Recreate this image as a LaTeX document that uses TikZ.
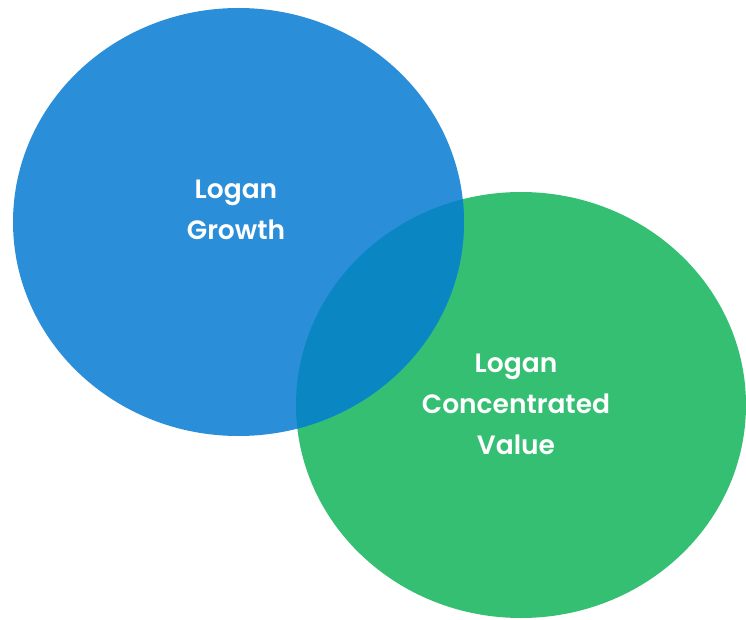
\documentclass[tikz,border=0pt]{standalone}
\usepackage{fontspec}
\newfontfamily\labfont{Poppins}[UprightFont=* SemiBold]
\definecolor{cblue}{HTML}{2A8FD8}
\definecolor{cgreen}{HTML}{35BF73}
\definecolor{cmix}{HTML}{0A87C2}
\begin{document}
\begin{tikzpicture}[x=1pt,y=-1pt,
  setlabel/.style={text=white,font=\labfont\fontsize{26.5}{41}\selectfont,align=center}]
\useasboundingbox (0,0) rectangle (746,620);
% the two sets
\fill[cgreen] (521,405) ellipse [x radius=225, y radius=213];
\fill[cblue] (238.5,222) ellipse [x radius=225.5, y radius=214];
% their overlap
\begin{scope}
  \clip (521,405) ellipse [x radius=225, y radius=213];
  \fill[cmix] (238.5,222) ellipse [x radius=225.5, y radius=214];
\end{scope}
\node[setlabel] (growth) at (236,210) {Logan\\Growth};
\node[setlabel] (value) at (516,404) {Logan\\Concentrated\\Value};
\end{tikzpicture}
\end{document}
